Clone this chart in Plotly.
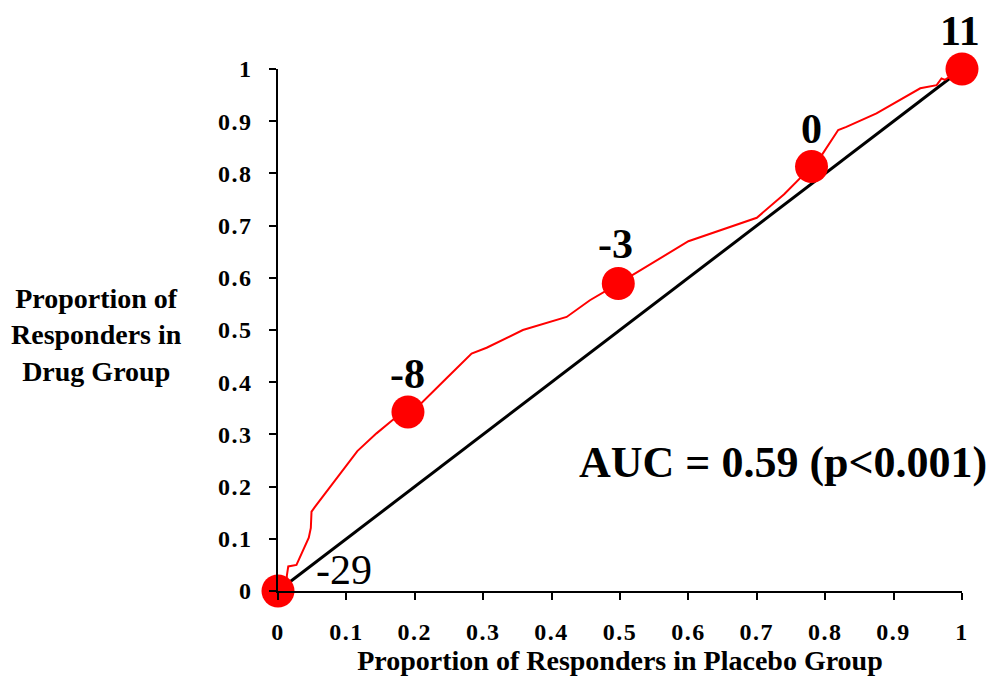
import plotly.graph_objects as go

# Red curve (proportion of responders: placebo x, drug y)
curve_x = [0.0, 0.012, 0.013, 0.015, 0.027, 0.029, 0.039, 0.042, 0.045, 0.048, 0.049, 0.054,
           0.064, 0.080, 0.100, 0.116, 0.144, 0.168, 0.190, 0.208, 0.246, 0.283, 0.305,
           0.358, 0.422, 0.456, 0.4975, 0.544, 0.600, 0.700, 0.740, 0.780, 0.795, 0.819,
           0.831, 0.875, 0.939, 0.963, 0.970, 0.975, 1.0]
curve_y = [0.0, 0.010, 0.030, 0.047, 0.050, 0.056, 0.085, 0.095, 0.102, 0.121, 0.152, 0.161,
           0.178, 0.207, 0.241, 0.268, 0.302, 0.328, 0.343, 0.358, 0.407, 0.455, 0.466,
           0.500, 0.525, 0.557, 0.589, 0.625, 0.670, 0.715, 0.760, 0.813, 0.835, 0.883,
           0.889, 0.915, 0.963, 0.969, 0.982, 0.979, 1.0]

# Highlighted cut-off points
pt_x = [0.0, 0.190, 0.4975, 0.780, 1.0]
pt_y = [0.0, 0.343, 0.589, 0.813, 1.0]
pt_labels = ["-29", "-8", "-3", "0", "11"]
pt_bold = [False, True, True, True, True]
pt_xshift = [66, 0, -3, 0, -2]
pt_yshift = [21, 38, 40, 38, 38]

# Reference diagonal
diag_x = [0.0, 1.0]
diag_y = [0.0, 1.0]

tick_vals = [0, 0.1, 0.2, 0.3, 0.4, 0.5, 0.6, 0.7, 0.8, 0.9, 1.0]
tick_text = ["0", "0.1", "0.2", "0.3", "0.4", "0.5", "0.6", "0.7", "0.8", "0.9", "1"]

auc_text = "AUC = 0.59 (p<0.001)"
x_title = "Proportion of Responders in Placebo Group"
y_title = "Proportion of<br>Responders in<br>Drug Group"

FONT = "Liberation Serif"

fig = go.Figure()
fig.add_trace(go.Scatter(x=diag_x, y=diag_y, mode="lines",
                         line=dict(color="black", width=3), cliponaxis=False,
                         hoverinfo="skip"))
fig.add_trace(go.Scatter(x=curve_x, y=curve_y, mode="lines",
                         line=dict(color="#ff0000", width=2), cliponaxis=False))
fig.add_trace(go.Scatter(x=pt_x, y=pt_y, mode="markers",
                         marker=dict(color="#ff0000", size=33, line=dict(width=0)),
                         cliponaxis=False))

for x, y, t, b, xs, ys in zip(pt_x, pt_y, pt_labels, pt_bold, pt_xshift, pt_yshift):
    fig.add_annotation(x=x, y=y, text=(f"<b>{t}</b>" if b else t), showarrow=False,
                       xshift=xs, yshift=ys, xanchor="center", yanchor="middle",
                       font=dict(family=FONT, size=42, color="black"))

fig.add_annotation(x=0.738, y=0.247, xref="x", yref="y", text=f"<b>{auc_text}</b>",
                   showarrow=False, xanchor="center", yanchor="middle",
                   font=dict(family=FONT, size=44, color="black"))

fig.add_annotation(x=-0.266, y=0.49, xref="paper", yref="paper", text=f"<b>{y_title}</b>",
                   showarrow=False, align="center", xanchor="center", yanchor="middle",
                   font=dict(family=FONT, size=28, color="black"))

spaced = [f'<span style="letter-spacing:1.5px"><b>{t}</b></span>' for t in tick_text]

axis_common = dict(range=[0, 1], showgrid=False, zeroline=False, showline=True,
                   linecolor="black", linewidth=1.5, ticks="outside", ticklen=7,
                   tickwidth=1.5, tickcolor="black", tickvals=tick_vals, ticktext=spaced,
                   tickfont=dict(family=FONT, size=24, color="black"), automargin=False)

fig.update_xaxes(**axis_common, ticklabelstandoff=11,
                 title=dict(text=f"<b>{x_title}</b>", standoff=7,
                            font=dict(family=FONT, size=28, color="black")))
fig.update_yaxes(**axis_common, ticklabelstandoff=12)

fig.update_layout(width=987, height=669, showlegend=False,
                  plot_bgcolor="white", paper_bgcolor="white",
                  margin=dict(l=270, r=33, t=61, b=86))

fig.write_html("out.html")
